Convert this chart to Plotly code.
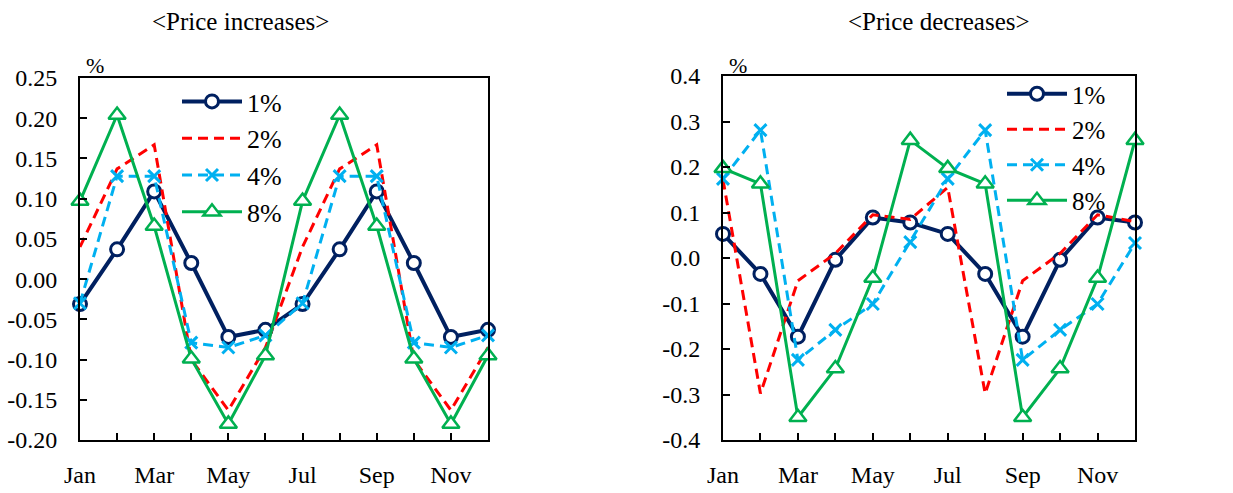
import plotly.graph_objects as go

months = ["Jan", "Feb", "Mar", "Apr", "May", "Jun", "Jul", "Aug", "Sep", "Oct", "Nov", "Dec"]
tick_labels = ["Jan", "", "Mar", "", "May", "", "Jul", "", "Sep", "", "Nov", ""]
series_names = ["1%", "2%", "4%", "8%"]

# <Price increases>
inc_1 = [-0.031, 0.037, 0.109, 0.020, -0.072, -0.063, -0.031, 0.037, 0.109, 0.020, -0.072, -0.063]
inc_2 = [0.040, 0.137, 0.167, -0.100, -0.163, -0.085, 0.040, 0.137, 0.167, -0.100, -0.163, -0.085]
inc_4 = [-0.030, 0.128, 0.128, -0.079, -0.085, -0.070, -0.030, 0.128, 0.128, -0.079, -0.085, -0.070]
inc_8 = [0.097, 0.204, 0.066, -0.099, -0.180, -0.095, 0.097, 0.204, 0.066, -0.099, -0.180, -0.095]

# <Price decreases>
dec_1 = [0.053, -0.035, -0.173, -0.004, 0.089, 0.078, 0.053, -0.035, -0.173, -0.004, 0.089, 0.078]
dec_2 = [0.172, -0.298, -0.050, 0.010, 0.095, 0.085, 0.155, -0.298, -0.050, 0.010, 0.095, 0.080]
dec_4 = [0.174, 0.281, -0.224, -0.158, -0.101, 0.035, 0.174, 0.281, -0.224, -0.158, -0.101, 0.033]
dec_8 = [0.197, 0.163, -0.350, -0.243, -0.044, 0.259, 0.197, 0.163, -0.350, -0.243, -0.044, 0.259]

inc_yticks = [0.25, 0.20, 0.15, 0.10, 0.05, 0.00, -0.05, -0.10, -0.15, -0.20]
dec_yticks = [0.4, 0.3, 0.2, 0.1, 0.0, -0.1, -0.2, -0.3, -0.4]

FONT = "Liberation Serif, Times New Roman, Times, serif"
NAVY = "#002060"
RED = "#FF0000"
BLUE = "#00B0F0"
GREEN = "#00B050"

styles = [
    dict(line=dict(color=NAVY, width=4), marker=dict(symbol="circle", size=13, color="white",
                                                   line=dict(color=NAVY, width=3))),
    dict(line=dict(color=RED, width=3, dash="10px,6px"), marker=dict(size=1, opacity=0)),
    dict(line=dict(color=BLUE, width=3, dash="10px,6px"), marker=dict(symbol="x-thin", size=12,
                                                                    line=dict(color=BLUE, width=3))),
    dict(line=dict(color=GREEN, width=3), marker=dict(symbol="triangle-up", size=15, color="white",
                                                    line=dict(color=GREEN, width=2.5))),
]
modes = ["lines+markers", "lines", "lines+markers", "lines+markers"]

x = list(range(len(months)))

fig = go.Figure()
for i, (name, ys) in enumerate(zip(series_names, [inc_1, inc_2, inc_4, inc_8])):
    fig.add_trace(go.Scatter(x=x, y=ys, name=name, mode=modes[i], xaxis="x", yaxis="y",
                             legend="legend", cliponaxis=False, **styles[i]))
for i, (name, ys) in enumerate(zip(series_names, [dec_1, dec_2, dec_4, dec_8])):
    fig.add_trace(go.Scatter(x=x, y=ys, name=name, mode=modes[i], xaxis="x2", yaxis="y2",
                             legend="legend2", cliponaxis=False, **styles[i]))

axis_common = dict(showgrid=False, zeroline=False, showline=True, linecolor="black", linewidth=2,
                   mirror=True, ticks="inside", ticklen=7, tickwidth=2, tickcolor="black",
                   automargin=False,
                   tickfont=dict(family=FONT, size=24, color="black"))

fig.update_layout(
    template="none",
    width=1233, height=493,
    margin=dict(l=0, r=0, t=0, b=0, autoexpand=False),
    paper_bgcolor="white", plot_bgcolor="white",
    font=dict(family=FONT, color="black"),
    xaxis=dict(domain=[80 / 1233, 488 / 1233], range=[0, 11], tickvals=x, ticktext=tick_labels,
               anchor="y", ticklabelstandoff=12, **axis_common),
    yaxis=dict(domain=[53 / 493, 415 / 493], range=[-0.2, 0.25], tickvals=inc_yticks,
               ticktext=[f"{v:.2f}".replace("-0.00", "0.00") for v in inc_yticks],
               anchor="x", ticklabelstandoff=16, **axis_common),
    xaxis2=dict(domain=[723 / 1233, 1135 / 1233], range=[0, 11], tickvals=x, ticktext=tick_labels,
                anchor="y2", ticklabelstandoff=12, **axis_common),
    yaxis2=dict(domain=[53 / 493, 417 / 493], range=[-0.4, 0.4], tickvals=dec_yticks,
                ticktext=[f"{v:.1f}".replace("-0.0", "0.0") for v in dec_yticks],
                anchor="x2", ticklabelstandoff=16, **axis_common),
    legend=dict(x=177 / 1233, y=1 - 78 / 493, xanchor="left", yanchor="top",
                bgcolor="rgba(255,255,255,0)", font=dict(family=FONT, size=26, color="black"),
                tracegroupgap=0, itemwidth=60),
    legend2=dict(x=1002 / 1233, y=1 - 71 / 493, xanchor="left", yanchor="top",
                 bgcolor="rgba(255,255,255,0)", font=dict(family=FONT, size=25, color="black"),
                 tracegroupgap=0, itemwidth=60),
    showlegend=True,
    annotations=[
        dict(text="&lt;Price increases&gt;", x=240 / 1233, y=1 - 22 / 493, xref="paper", yref="paper",
             showarrow=False, font=dict(family=FONT, size=25, color="black"), xanchor="center", yanchor="middle"),
        dict(text="&lt;Price decreases&gt;", x=939 / 1233, y=1 - 22 / 493, xref="paper", yref="paper",
             showarrow=False, font=dict(family=FONT, size=25, color="black"), xanchor="center", yanchor="middle"),
        dict(text="%", x=84 / 1233, y=1 - 65 / 493, xref="paper", yref="paper", showarrow=False,
             font=dict(family=FONT, size=22, color="black"), xanchor="left", yanchor="middle"),
        dict(text="%", x=727 / 1233, y=1 - 65 / 493, xref="paper", yref="paper", showarrow=False,
             font=dict(family=FONT, size=22, color="black"), xanchor="left", yanchor="middle"),
    ],
)

fig.write_html("out.html", config={"displayModeBar": False},
               post_script="document.body.style.margin='0';document.body.style.padding='0';")
